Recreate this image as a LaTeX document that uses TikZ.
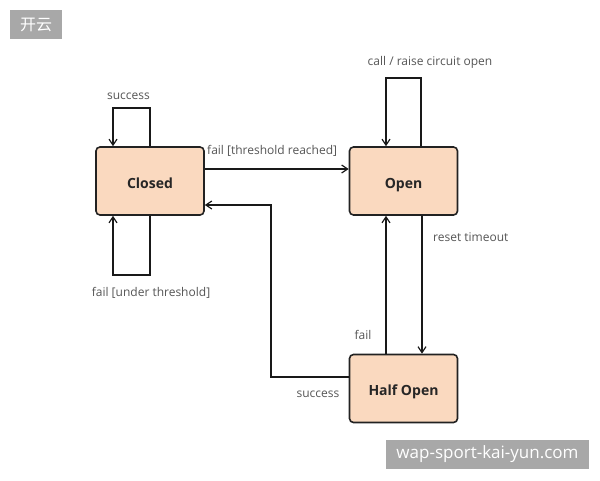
\documentclass[tikz,border=0pt]{standalone}
\usepackage{fontspec}
\setmainfont{Open Sans}
\newfontfamily\cjkfont{Noto Sans CJK SC}
\usetikzlibrary{arrows.meta,calc}
\definecolor{boxfill}{HTML}{FAD9BF}
\definecolor{boxline}{HTML}{222222}
\definecolor{labelgray}{HTML}{555555}
\definecolor{wmgray}{HTML}{A8A8A8}
\tikzset{
  state/.style={draw=boxline, fill=boxfill, line width=1.6pt, rounded corners=4pt,
    minimum width=108pt, minimum height=68pt, text height=14pt, text depth=0pt,
    font=\fontsize{14}{16}\selectfont\bfseries, text=black!85},
  conn/.style={line width=1.4pt, draw=black!90, -{Straight Barb[length=6pt,width=8pt,line width=1.2pt]}},
  lbl/.style={font=\fontsize{12}{14}\selectfont, text=labelgray, inner sep=0pt},
  wm/.style={fill=wmgray, text=white, inner sep=0pt}
}
\begin{document}
\begin{tikzpicture}[x=1pt,y=-1pt]
\useasboundingbox (0,0) rectangle (600,480);
% watermarks
\node[wm, minimum width=52pt, minimum height=29pt, font=\cjkfont\fontsize{16}{18}\selectfont] (wm1) at (36,24.5) {开云};
\node[wm, minimum width=203pt, minimum height=29pt, font=\fontsize{17}{19}\selectfont] (wm2) at (487.5,454.5) {wap-sport-kai-yun.com};
% states
\node[state] (closed) at (150,181) {Closed};
\node[state] (open) at (403.5,181) {Open};
\node[state] (half) at (403.5,388.5) {Half Open};
% closed self loops
\coordinate (ctl) at (113,108);
\coordinate (ctr) at (150,108);
\draw[conn] (closed.north) -- (ctr) -- (ctl) -- ([xshift=-37pt]closed.north);
\node[lbl] (lsucc1) at (128.5,96) {success};
\coordinate (cbr) at (150,275);
\coordinate (cbl) at (113,275);
\draw[conn] (closed.south) -- (cbr) -- (cbl) -- ([xshift=-37pt]closed.south);
\node[lbl] (lfailu) at (151,293) {fail [under threshold]};
% closed -> open
\draw[conn] ([yshift=12pt]closed.east) -- ([yshift=12pt]open.west);
\node[lbl, anchor=west] (lfailr) at (207,151) {fail [threshold reached]};
% open self loop
\coordinate (otr) at (421,78);
\coordinate (otl) at (386,78);
\draw[conn] ([xshift=17.5pt]open.north) -- (otr) -- (otl) -- ([xshift=-17.5pt]open.north);
\node[lbl] (lcall) at (430,62) {call / raise circuit open};
% open -> half
\draw[conn] ([xshift=18.5pt]open.south) -- ([xshift=18.5pt]half.north);
\node[lbl, anchor=west] (lreset) at (433,237) {reset timeout};
% half -> open
\draw[conn] ([xshift=-17.5pt]half.north) -- ([xshift=-17.5pt]open.south);
\node[lbl] (lfail) at (363,335) {fail};
% half -> closed
\coordinate (sbend) at (271,377);
\draw[conn] ([yshift=11.5pt]half.west) -- (sbend) |- ([yshift=-24pt]closed.east);
\node[lbl] (lsucc2) at (318,394) {success};
\end{tikzpicture}
\end{document}
